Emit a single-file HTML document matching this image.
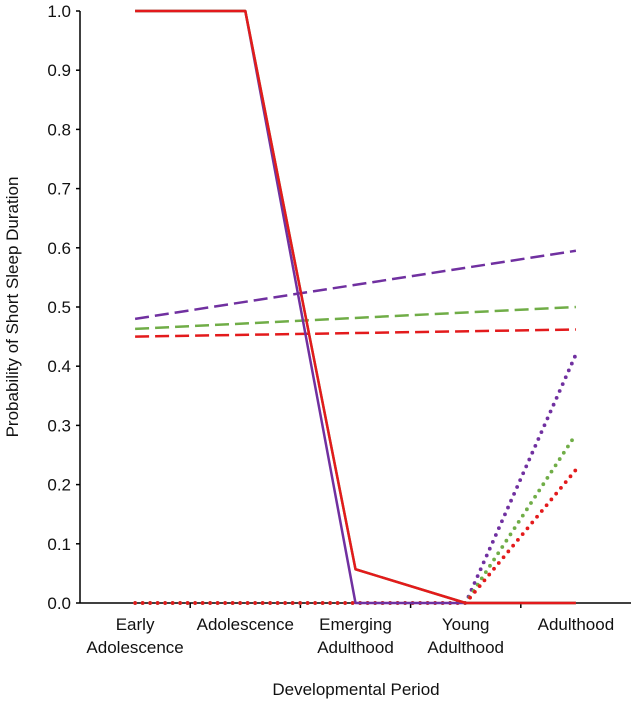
<!DOCTYPE html>
<html><head><meta charset="utf-8"><style>
body{margin:0;background:#fff}
svg text{font-family:"Liberation Sans",Arial,sans-serif;fill:#111}
</style></head><body>
<svg id="chart" width="632" height="703" xmlns="http://www.w3.org/2000/svg">
<g id="axes"></g><g id="series"></g>
</svg>
<script>
const categories=[["Early","Adolescence"],["Adolescence"],["Emerging","Adulthood"],["Young","Adulthood"],["Adulthood"]];
const yTicks=[0,0.1,0.2,0.3,0.4,0.5,0.6,0.7,0.8,0.9,1.0];
const solidPurple=[1,1,0,0,0];
const solidGreen=[1,1,0.057,0,0];
const solidRed=[1,1,0.057,0,0];
const dashPurple=[0.48,null,null,null,0.595];
const dashGreen=[0.463,null,null,null,0.5];
const dashRed=[0.45,null,null,null,0.462];
const dotPurple=[0,0,0,0,0.42];
const dotGreen=[0,0,0,0,0.285];
const dotRed=[0,0,0,0,0.225];
const NS="http://www.w3.org/2000/svg";
const x0=80,x1=631,yTop=11,yBot=603;
const step=(x1-x0)/categories.length;
const xs=i=>x0+step*(i+0.5);
const ys=v=>yBot-(yBot-yTop)*v;
const axes=document.getElementById('axes'),ser=document.getElementById('series');
function mk(t,a,p){const e=document.createElementNS(NS,t);for(const k in a)e.setAttribute(k,a[k]);p.appendChild(e);return e;}
let e=mk('line',{x1:x0,y1:yTop,x2:x0,y2:yBot,stroke:'#000','stroke-width':1.5},axes);


e=mk('line',{x1:x0,y1:yBot,x2:x1,y2:yBot,stroke:'#000','stroke-width':1.5},axes);


yTicks.forEach(v=>{
 mk('line',{x1:x0-4,x2:x0,y1:ys(v),y2:ys(v),stroke:'#000','stroke-width':1.5},axes);
 const t=mk('text',{x:71,y:ys(v)+6,'text-anchor':'end','font-size':17},axes);t.textContent=v.toFixed(1);
 
 
});
categories.forEach((c,i)=>{
 if(i>0)mk('line',{x1:x0+step*i,x2:x0+step*i,y1:yBot,y2:yBot+5,stroke:'#000','stroke-width':1.5},axes);
 const t=mk('text',{x:xs(i),y:630,'text-anchor':'middle','font-size':17},axes);
 
 
 c.forEach((l,j)=>{const s=mk('tspan',{x:xs(i),dy:j?23:0},t);s.textContent=l;});
});
let t=mk('text',{x:356,y:695,'text-anchor':'middle','font-size':17},axes);t.textContent='Developmental Period';


t=mk('text',{x:0,y:0,'text-anchor':'middle','font-size':17,transform:'translate(18,307) rotate(-90)'},axes);t.textContent='Probability of Short Sleep Duration';


function line(arr,color,style,name){
 const pts=[];arr.forEach((v,i)=>{if(v!==null)pts.push(xs(i)+','+ys(v));});
 const a={points:pts.join(' '),fill:'none',stroke:color,'stroke-width':2.5,'stroke-linejoin':'round'};
 if(style==='dash')a['stroke-dasharray']='14,6';
 if(style==='dot'){a['stroke-dasharray']='0,7.5';a['stroke-linecap']='round';a['stroke-width']=3.8;}
 const p=mk('polyline',a,ser);
 
 
}
line(dotPurple,'#7030a0','dot','dotted-purple-series');
line(dotGreen,'#70ad47','dot','dotted-green-series');
line(dotRed,'#e31a1c','dot','dotted-red-series');
line(dashPurple,'#7030a0','dash','dashed-purple-series');
line(dashGreen,'#70ad47','dash','dashed-green-series');
line(dashRed,'#e31a1c','dash','dashed-red-series');
line(solidPurple,'#7030a0','solid','solid-purple-series');
line(solidGreen,'#70ad47','solid','solid-green-series');
line(solidRed,'#e31a1c','solid','solid-red-series');
</script>
</body></html>
